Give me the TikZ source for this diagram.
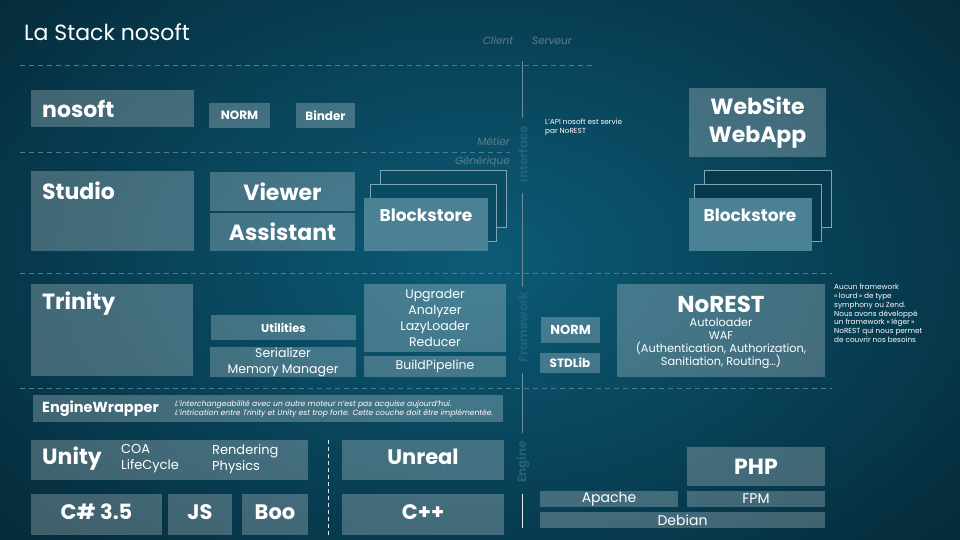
\documentclass[tikz,border=0pt]{standalone}
\usepackage{fontspec}
\setmainfont{Poppins}
\definecolor{bgA}{HTML}{0C5B77}
\definecolor{bgB}{HTML}{073C50}
\definecolor{bgC}{HTML}{031219}
\definecolor{lbl}{HTML}{5E7F8C}
\definecolor{dashc}{HTML}{4F7C8C}
\definecolor{vlab}{HTML}{22617C}
\definecolor{vline}{HTML}{6A8E9B}
\definecolor{frameL}{HTML}{0A4A62}
\definecolor{frameR}{HTML}{07394C}
\definecolor{framec}{HTML}{7FA6B4}
\definecolor{bsfront}{HTML}{4A8194}
\pgfdeclareradialshading{bgshade}{\pgfpoint{0bp}{0bp}}{color(0bp)=(bgA); color(20bp)=(bgB); color(46bp)=(bgC); color(50bp)=(bgC)}
\newcommand\fs[2]{\fontsize{#1}{#2}\selectfont}
\tikzset{
  box/.style={fill=white, fill opacity=0.24, text opacity=1, text=white, inner sep=0pt, outer sep=0pt, anchor=north west, align=center},
  frm/.style={draw=framec, line width=0.7pt, inner sep=0pt, outer sep=0pt, anchor=north west},
  hd/.style={anchor=west, text=white, inner sep=0pt, font=\bfseries\fs{22}{24}},
  txt/.style={text=white, inner sep=0pt, align=center},
  grey/.style={text=lbl, inner sep=0pt, font=\itshape\fs{10.5}{12}},
  vl/.style={text=vlab, inner sep=0pt, rotate=90, font=\bfseries\fs{12}{14}},
  hdash/.style={draw=dashc, line width=0.6pt, dash pattern=on 5pt off 4pt},
  vline/.style={draw=vline, line width=0.7pt},
  big/.style={font=\bfseries\fs{21}{23}},
}
\newcommand\bx[7][]{\node[box,#1,minimum width={(#5-#3)*1pt},minimum height={(#6-#4)*1pt}] (#2) at (#3,#4) {#7};}
\begin{document}
\begin{tikzpicture}[x=1pt,y=-1pt]
\useasboundingbox (0,0) rectangle (960,540);
\fill[bgC] (0,0) rectangle (960,540);
\shade[shading=bgshade] (-40,-80) rectangle (1000,600);

% title and labels
\node[anchor=west, text=white, inner sep=0pt, font=\fs{22}{24}] (title) at (24,32) {La Stack nosoft};
\node[grey] (client) at (498,41) {Client};
\node[grey] (serveur) at (552,41) {Serveur};
\node[grey, anchor=east] (metier) at (510,141) {Métier};
\node[grey, anchor=east] (generique) at (510,162) {Générique};

% dashed separators
\coordinate (d1a) at (20,65); \coordinate (d1b) at (596,65);
\coordinate (d2a) at (20,152); \coordinate (d2b) at (510,152);
\coordinate (d3a) at (20,273); \coordinate (d3b) at (832,273);
\coordinate (d4a) at (20,388); \coordinate (d4b) at (832,388);
\draw[hdash] (d1a) -- (d1b);
\draw[hdash] (d2a) -- (d2b);
\draw[hdash] (d3a) -- (d3b);
\draw[hdash] (d4a) -- (d4b);

% vertical axis
\node[vl] (iface) at (523,154) {Interface};
\node[vl] (fwork) at (523,327) {Framework};
\node[vl] (engine) at (523,462) {Engine};
\coordinate (v0) at (522,61);
\coordinate (v1) at (522,118);
\coordinate (v2) at (522,193);
\coordinate (v3) at (522,287);
\coordinate (v4) at (522,373);
\coordinate (v5) at (522,433);
\coordinate (v6) at (522,494);
\coordinate (v7) at (522,528);
\draw[vline] (v0) -- (v1);
\draw[vline] (v2) -- (v3);
\draw[vline] (v4) -- (v5);
\draw[line width=0.8pt, white!85!vline] (v6) -- (v7);

% notes
\node[anchor=north west, text=white, inner sep=0pt, align=left, font=\fs{7.3}{8.6}] (apinote) at (545,119) {L’API nosoft est servie\\par NoREST};
\node[anchor=north west, text=white, inner sep=0pt, align=left, font=\fs{7.3}{8.8}] (fwnote) at (834,284) {Aucun framework\\«\,lourd\,» de type\\symphony ou Zend.\\Nous avons développé\\un framework «\,léger\,»\\NoREST qui nous permet\\de couvrir nos besoins};

% Metier row
\bx{nosoft}{31}{90}{194}{127}{}
\node[hd] (nosoftT) at (42,109) {nosoft};
\bx[font=\bfseries\fs{12}{14}]{normA}{209}{103}{270}{128}{NORM}
\bx[font=\bfseries\fs{12}{14}]{binder}{296}{103}{355}{128}{Binder}
\bx[font=\bfseries\fs{22}{28}]{website}{689}{88}{826}{157}{WebSite\\WebApp}

% Studio row
\bx{studio}{31}{171}{194}{251}{}
\node[hd] (studioT) at (42,191) {Studio};
\bx[font=\bfseries\fs{22}{24}]{viewer}{210}{172}{355}{211}{Viewer}
\bx[font=\bfseries\fs{22}{24}]{assist}{210}{213}{355}{251}{Assistant}
\node[frm, fill=frameL, minimum width=126pt, minimum height=57pt] (bsLa) at (380,170) {};
\node[frm, fill=frameL, minimum width=126pt, minimum height=57pt] (bsLb) at (370,184) {};
\bx[fill=bsfront, fill opacity=1]{bsL}{364}{198}{488}{251}{}
\node[txt, font=\bfseries\fs{17}{19}] (bsLT) at (426,215) {Blockstore};
\node[frm, fill=frameR, minimum width=127pt, minimum height=57pt] (bsRa) at (704,170) {};
\node[frm, fill=frameR, minimum width=127pt, minimum height=57pt] (bsRb) at (694,184) {};
\bx[fill=bsfront, fill opacity=1]{bsR}{689}{198}{812}{251}{}
\node[txt, font=\bfseries\fs{17}{19}] (bsRT) at (750,215) {Blockstore};

% Framework row
\bx{trinity}{31}{284}{193}{376}{}
\node[hd] (trinityT) at (42,304) {Trinity};
\bx[font=\bfseries\fs{11.5}{13}]{utilities}{211}{315}{356}{340}{Utilities}
\bx[font=\fs{12.5}{16}]{serial}{210}{347}{356}{377}{Serializer\\Memory Manager}
\bx[font=\fs{12.5}{16}]{upgrader}{364}{284}{506}{352}{Upgrader\\Analyzer\\LazyLoader\\Reducer}
\bx[font=\fs{12.5}{14}]{build}{364}{356}{506}{377}{BuildPipeline}
\bx[font=\bfseries\fs{13}{15}]{normB}{541}{317}{600}{343}{NORM}
\bx[font=\bfseries\fs{12}{14}]{stdlib}{540}{353}{600}{373}{STDLib}
\bx{norest}{617}{284}{825}{377}{}
\node[txt, font=\bfseries\fs{23}{25}] (norestT) at (721,304) {NoREST};
\node[txt, font=\fs{11.3}{13.1}] (norestL) at (721,343.5) {Autoloader\\WAF\\(Authentication, Authorization,\\Sanitiation, Routing…)};

% Engine wrapper
\bx{ewrap}{33}{395}{503}{422}{}
\node[anchor=west, text=white, inner sep=0pt, font=\bfseries\fs{14.5}{16}] (ewrapT) at (42,409) {EngineWrapper};
\node[anchor=west, text=white, inner sep=0pt, align=left, font=\itshape\fs{7.6}{9}] (ewrapN) at (175,409) {L’interchangeabilité avec un autre moteur n’est pas acquise aujourd’hui.\\L’intrication entre Trinity et Unity est trop forte. Cette couche doit être implémentée.};

% Engine row
\bx{unity}{31}{440}{308}{480}{}
\node[hd] (unityT) at (42,459) {Unity};
\node[anchor=west, text=white, inner sep=0pt, align=left, font=\fs{13}{16}] (unityA) at (121,459) {COA\\LifeCycle};
\node[anchor=west, text=white, inner sep=0pt, align=left, font=\fs{13}{16}] (unityB) at (212,459) {Rendering\\Physics};
\bx[big]{csharp}{31}{494}{162}{535}{C\# 3.5\vphantom{p}}
\bx[big]{js}{168}{494}{232}{535}{JS\vphantom{p}}
\bx[big]{boo}{242}{494}{308}{535}{Boo\vphantom{p}}
\coordinate (ud1) at (328,440); \coordinate (ud2) at (328,535);
\draw[white!80!vline, line width=0.8pt, dash pattern=on 4pt off 3pt] (ud1) -- (ud2);
\bx[big]{unreal}{342}{440}{504}{480}{Unreal\vphantom{p}}
\bx[big]{cpp}{342}{494}{504}{535}{C++\vphantom{p}}
\bx[font=\bfseries\fs{22}{24}]{php}{687}{447}{825}{486}{PHP}
\bx[font=\fs{14}{15}]{apache}{540}{491}{678}{507}{Apache}
\bx[font=\fs{14}{15}]{fpm}{687}{491}{825}{507}{FPM}
\bx[font=\fs{14}{15}]{debian}{540}{512}{825}{528}{Debian}
\end{tikzpicture}
\end{document}
